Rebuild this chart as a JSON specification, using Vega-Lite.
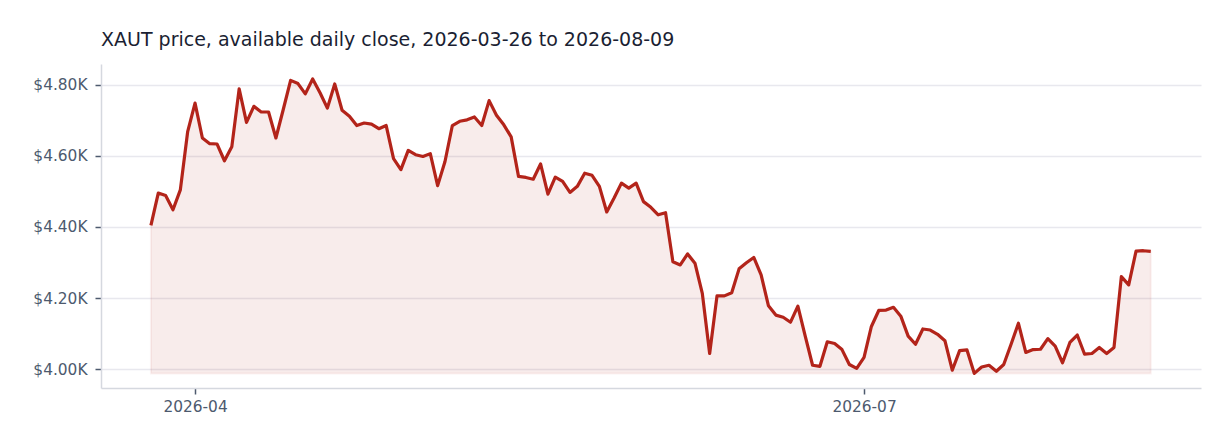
{
  "$schema": "https://vega.github.io/schema/vega-lite/v6.json",
  "autosize": {"type": "none"},
  "padding": {"left": 101, "top": 64, "right": 31, "bottom": 60},
  "width": 1100,
  "height": 324,
  "title": {
    "text": "XAUT price, available daily close, 2026-03-26 to 2026-08-09",
    "anchor": "start",
    "frame": "group",
    "baseline": "alphabetic",
    "offset": -1,
    "fontSize": 19,
    "fontWeight": "normal",
    "color": "#1b1f33",
    "font": "DejaVu Sans"
  },
  "config": {
    "view": {"stroke": null},
    "font": "DejaVu Sans",
    "axis": {
      "labelFont": "DejaVu Sans",
      "labelFontSize": 15.4,
      "labelColor": "#4d5a6e",
      "domainColor": "#d5d8df",
      "domainWidth": 1.5,
      "tickColor": "#4d5a6e",
      "tickWidth": 1.5,
      "gridColor": "#e8e8ee",
      "gridWidth": 1.5
    }
  },
  "data": {
    "values": [
      {"date": "2026-03-26", "close": 4404},
      {"date": "2026-03-27", "close": 4495},
      {"date": "2026-03-28", "close": 4488},
      {"date": "2026-03-29", "close": 4448},
      {"date": "2026-03-30", "close": 4504},
      {"date": "2026-03-31", "close": 4668},
      {"date": "2026-04-01", "close": 4748},
      {"date": "2026-04-02", "close": 4650},
      {"date": "2026-04-03", "close": 4634},
      {"date": "2026-04-04", "close": 4633},
      {"date": "2026-04-05", "close": 4586},
      {"date": "2026-04-06", "close": 4625},
      {"date": "2026-04-07", "close": 4788},
      {"date": "2026-04-08", "close": 4694},
      {"date": "2026-04-09", "close": 4739},
      {"date": "2026-04-10", "close": 4723},
      {"date": "2026-04-11", "close": 4723},
      {"date": "2026-04-12", "close": 4650},
      {"date": "2026-04-13", "close": 4730},
      {"date": "2026-04-14", "close": 4812},
      {"date": "2026-04-15", "close": 4803},
      {"date": "2026-04-16", "close": 4774},
      {"date": "2026-04-17", "close": 4816},
      {"date": "2026-04-18", "close": 4777},
      {"date": "2026-04-19", "close": 4734},
      {"date": "2026-04-20", "close": 4802},
      {"date": "2026-04-21", "close": 4728},
      {"date": "2026-04-22", "close": 4711},
      {"date": "2026-04-23", "close": 4685},
      {"date": "2026-04-24", "close": 4692},
      {"date": "2026-04-25", "close": 4689},
      {"date": "2026-04-26", "close": 4676},
      {"date": "2026-04-27", "close": 4685},
      {"date": "2026-04-28", "close": 4592},
      {"date": "2026-04-29", "close": 4561},
      {"date": "2026-04-30", "close": 4615},
      {"date": "2026-05-01", "close": 4603},
      {"date": "2026-05-02", "close": 4598},
      {"date": "2026-05-03", "close": 4606},
      {"date": "2026-05-04", "close": 4516},
      {"date": "2026-05-05", "close": 4584},
      {"date": "2026-05-06", "close": 4685},
      {"date": "2026-05-07", "close": 4697},
      {"date": "2026-05-08", "close": 4701},
      {"date": "2026-05-09", "close": 4709},
      {"date": "2026-05-10", "close": 4685},
      {"date": "2026-05-11", "close": 4755},
      {"date": "2026-05-12", "close": 4714},
      {"date": "2026-05-13", "close": 4687},
      {"date": "2026-05-14", "close": 4653},
      {"date": "2026-05-15", "close": 4542},
      {"date": "2026-05-16", "close": 4539},
      {"date": "2026-05-17", "close": 4534},
      {"date": "2026-05-18", "close": 4577},
      {"date": "2026-05-19", "close": 4492},
      {"date": "2026-05-20", "close": 4540},
      {"date": "2026-05-21", "close": 4528},
      {"date": "2026-05-22", "close": 4497},
      {"date": "2026-05-23", "close": 4514},
      {"date": "2026-05-24", "close": 4551},
      {"date": "2026-05-25", "close": 4545},
      {"date": "2026-05-26", "close": 4514},
      {"date": "2026-05-27", "close": 4442},
      {"date": "2026-05-28", "close": 4481},
      {"date": "2026-05-29", "close": 4523},
      {"date": "2026-05-30", "close": 4509},
      {"date": "2026-05-31", "close": 4523},
      {"date": "2026-06-01", "close": 4471},
      {"date": "2026-06-02", "close": 4455},
      {"date": "2026-06-03", "close": 4434},
      {"date": "2026-06-04", "close": 4440},
      {"date": "2026-06-05", "close": 4302},
      {"date": "2026-06-06", "close": 4293},
      {"date": "2026-06-07", "close": 4324},
      {"date": "2026-06-08", "close": 4298},
      {"date": "2026-06-09", "close": 4213},
      {"date": "2026-06-10", "close": 4044},
      {"date": "2026-06-11", "close": 4206},
      {"date": "2026-06-12", "close": 4206},
      {"date": "2026-06-13", "close": 4215},
      {"date": "2026-06-14", "close": 4282},
      {"date": "2026-06-15", "close": 4299},
      {"date": "2026-06-16", "close": 4314},
      {"date": "2026-06-17", "close": 4265},
      {"date": "2026-06-18", "close": 4178},
      {"date": "2026-06-19", "close": 4152},
      {"date": "2026-06-20", "close": 4146},
      {"date": "2026-06-21", "close": 4132},
      {"date": "2026-06-22", "close": 4177},
      {"date": "2026-06-23", "close": 4093},
      {"date": "2026-06-24", "close": 4011},
      {"date": "2026-06-25", "close": 4008},
      {"date": "2026-06-26", "close": 4077},
      {"date": "2026-06-27", "close": 4072},
      {"date": "2026-06-28", "close": 4055},
      {"date": "2026-06-29", "close": 4013},
      {"date": "2026-06-30", "close": 4002},
      {"date": "2026-07-01", "close": 4033},
      {"date": "2026-07-02", "close": 4120},
      {"date": "2026-07-03", "close": 4165},
      {"date": "2026-07-04", "close": 4166},
      {"date": "2026-07-05", "close": 4174},
      {"date": "2026-07-06", "close": 4149},
      {"date": "2026-07-07", "close": 4093},
      {"date": "2026-07-08", "close": 4070},
      {"date": "2026-07-09", "close": 4113},
      {"date": "2026-07-10", "close": 4110},
      {"date": "2026-07-11", "close": 4098},
      {"date": "2026-07-12", "close": 4080},
      {"date": "2026-07-13", "close": 3997},
      {"date": "2026-07-14", "close": 4052},
      {"date": "2026-07-15", "close": 4054},
      {"date": "2026-07-16", "close": 3988},
      {"date": "2026-07-17", "close": 4006},
      {"date": "2026-07-18", "close": 4011},
      {"date": "2026-07-19", "close": 3994},
      {"date": "2026-07-20", "close": 4013},
      {"date": "2026-07-21", "close": 4070},
      {"date": "2026-07-22", "close": 4129},
      {"date": "2026-07-23", "close": 4047},
      {"date": "2026-07-24", "close": 4055},
      {"date": "2026-07-25", "close": 4056},
      {"date": "2026-07-26", "close": 4086},
      {"date": "2026-07-27", "close": 4065},
      {"date": "2026-07-28", "close": 4018},
      {"date": "2026-07-29", "close": 4075},
      {"date": "2026-07-30", "close": 4096},
      {"date": "2026-07-31", "close": 4042},
      {"date": "2026-08-01", "close": 4044},
      {"date": "2026-08-02", "close": 4061},
      {"date": "2026-08-03", "close": 4044},
      {"date": "2026-08-04", "close": 4061},
      {"date": "2026-08-05", "close": 4260},
      {"date": "2026-08-06", "close": 4237},
      {"date": "2026-08-07", "close": 4332},
      {"date": "2026-08-08", "close": 4333},
      {"date": "2026-08-09", "close": 4331}
    ]
  },
  "encoding": {
    "x": {
      "field": "date",
      "type": "temporal",
      "title": null,
      "scale": {
        "type": "utc",
        "domain": [
          {"year": 2026, "month": 3, "date": 19, "hours": 5, "utc": true},
          {"year": 2026, "month": 8, "date": 15, "hours": 20, "utc": true}
        ]
      },
      "axis": {
        "values": [
          {"year": 2026, "month": 4, "date": 1, "utc": true},
          {"year": 2026, "month": 7, "date": 1, "utc": true}
        ],
        "labelExpr": "utcFormat(datum.value, '%Y-%m')",
        "grid": false,
        "tickSize": 6,
        "labelPadding": 5
      }
    },
    "y": {
      "field": "close",
      "type": "quantitative",
      "title": null,
      "scale": {"domain": [3947, 4858], "nice": false, "zero": false},
      "axis": {
        "values": [4000, 4200, 4400, 4600, 4800],
        "labelExpr": "'$' + format(datum.value / 1000, '.2f') + 'K'",
        "tickSize": 6,
        "labelPadding": 8
      }
    }
  },
  "layer": [
    {
      "mark": {
        "type": "area",
        "color": "#b3281d",
        "fillOpacity": 0.09,
        "stroke": "#b3281d",
        "strokeOpacity": 0.06,
        "strokeWidth": 2
      },
      "encoding": {"y2": {"datum": 3988}}
    },
    {
      "mark": {"type": "line", "color": "#b3241a", "strokeWidth": 3.2, "strokeJoin": "round"}
    }
  ]
}
